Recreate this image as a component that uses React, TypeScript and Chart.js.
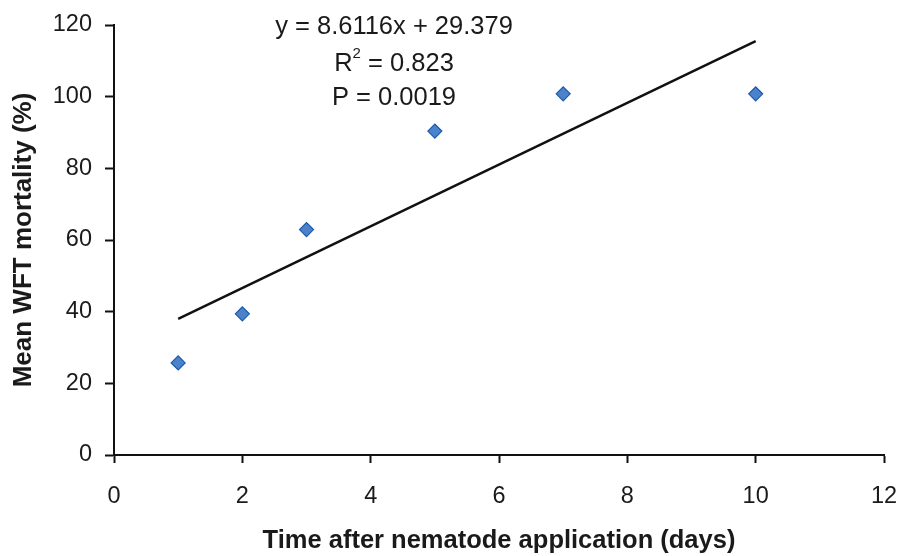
import React, { useEffect, useRef } from "react";
import { Chart, registerables } from "chart.js";

Chart.register(...registerables);

// Days after nematode application and mean WFT mortality (%)
const days = [1, 2, 3, 5, 7, 10];
const mortality = [25.7, 39.4, 62.9, 90.4, 100.8, 100.8];

// Fitted regression: y = slope * x + intercept
const slope = 8.6116;
const intercept = 29.379;
const fitRange = [1, 10];

const xTicks = [0, 2, 4, 6, 8, 10, 12];
const yTicks = [0, 20, 40, 60, 80, 100, 120];

const equationLines = ["y = 8.6116x + 29.379", "R2 = 0.823", "P = 0.0019"];

const FONT = "'Liberation Sans', Arial, Helvetica, sans-serif";

const equationPlugin = {
  id: "equationText",
  afterDraw(chart: any) {
    const ctx = chart.ctx as CanvasRenderingContext2D;
    const cx = 394;
    const ys = [27, 64, 98];
    const size = 25.5;
    const supSize = 15;
    ctx.save();
    ctx.fillStyle = "#1a1a1a";
    ctx.textBaseline = "middle";
    ctx.font = `${size}px ${FONT}`;
    ctx.textAlign = "center";
    ctx.fillText(equationLines[0], cx, ys[0]);
    // R² line, the exponent drawn smaller and raised
    const base = "R";
    const sup = "2";
    const rest = " = 0.823";
    const wBase = ctx.measureText(base).width;
    const wRest = ctx.measureText(rest).width;
    ctx.font = `${supSize}px ${FONT}`;
    const wSup = ctx.measureText(sup).width;
    let x = cx - (wBase + wSup + wRest) / 2;
    ctx.textAlign = "left";
    ctx.font = `${size}px ${FONT}`;
    ctx.fillText(base, x, ys[1]);
    x += wBase;
    ctx.font = `${supSize}px ${FONT}`;
    ctx.fillText(sup, x, ys[1] - 10);
    x += wSup;
    ctx.font = `${size}px ${FONT}`;
    ctx.fillText(rest, x, ys[1]);
    ctx.textAlign = "center";
    ctx.fillText(equationLines[2], cx, ys[2]);
    ctx.restore();
  },
};

export default function App() {
  const canvasRef = useRef<HTMLCanvasElement | null>(null);

  useEffect(() => {
    if (!canvasRef.current) return;
    const points = days.map((d, i) => ({ x: d, y: mortality[i] }));
    const fit = fitRange.map((x) => ({ x, y: slope * x + intercept }));

    const chart = new Chart(canvasRef.current, {
      type: "scatter",
      data: {
        datasets: [
          {
            label: "Mortality",
            data: points,
            pointStyle: "rectRot",
            pointRadius: 7,
            pointBackgroundColor: "#4a82cc",
            pointBorderColor: "#1d58ad",
            pointBorderWidth: 1.2,
            showLine: false,
            order: 1,
          },
          {
            label: "Fit",
            type: "line",
            data: fit,
            borderColor: "#111111",
            borderWidth: 2.5,
            pointRadius: 0,
            fill: false,
            order: 2,
          } as any,
        ],
      },
      options: {
        animation: false,
        responsive: false,
        maintainAspectRatio: false,
        layout: { padding: { top: 25, right: 16, left: 0, bottom: 0 } },
        plugins: {
          legend: { display: false },
          tooltip: { enabled: false },
        },
        scales: {
          x: {
            type: "linear",
            min: 0,
            max: 12,
            afterBuildTicks: (scale: any) => {
              scale.ticks = xTicks.map((v) => ({ value: v }));
            },
            afterFit: (scale: any) => {
              scale.height = 101;
              scale.paddingLeft = 0;
              scale.paddingRight = 0;
            },
            grid: {
              drawOnChartArea: false,
              drawTicks: true,
              tickLength: 8,
              tickWidth: 2,
              tickColor: "#111",
            },
            border: { color: "#111", width: 2 },
            ticks: {
              color: "#1a1a1a",
              padding: 19,
              font: { family: FONT, size: 23.5 },
            },
            title: {
              display: true,
              text: "Time after nematode application (days)",
              color: "#1a1a1a",
              font: { family: FONT, size: 25.5, weight: "bold" },
              padding: { top: 0, bottom: 0 },
            },
          },
          y: {
            type: "linear",
            min: 0,
            max: 120,
            afterBuildTicks: (scale: any) => {
              scale.ticks = yTicks.map((v) => ({ value: v }));
            },
            afterFit: (scale: any) => {
              scale.width = 114;
              scale.paddingTop = 0;
              scale.paddingBottom = 0;
            },
            grid: {
              drawOnChartArea: false,
              drawTicks: true,
              tickLength: 9,
              tickWidth: 2,
              tickColor: "#111",
            },
            border: { color: "#111", width: 2 },
            ticks: {
              color: "#1a1a1a",
              padding: 13,
              font: { family: FONT, size: 23.5 },
            },
            title: {
              display: true,
              text: "Mean WFT mortality (%)",
              color: "#1a1a1a",
              font: { family: FONT, size: 26, weight: "bold" },
              padding: { top: 8, bottom: 0 },
            },
          },
        },
      },
      plugins: [equationPlugin],
    });
    return () => chart.destroy();
  }, []);

  return (
    <div style={{ position: "fixed", left: 0, top: 0, width: 900, height: 556, background: "#fff" }}>
      <canvas ref={canvasRef} width={900} height={556} style={{ width: 900, height: 556, display: "block" }} />
    </div>
  );
}
